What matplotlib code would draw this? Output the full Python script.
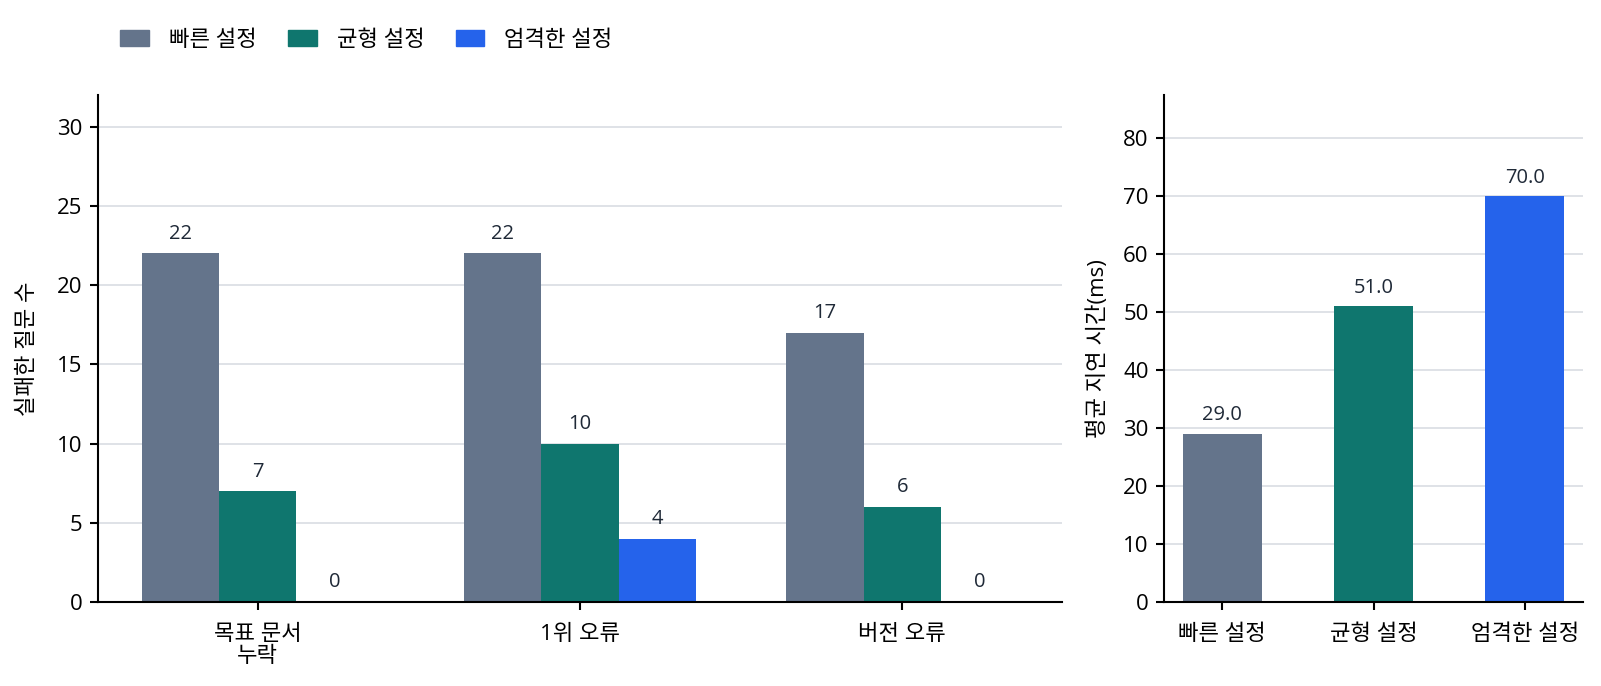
import matplotlib
matplotlib.use('Agg')
import matplotlib.pyplot as plt
import numpy as np
from matplotlib.patches import Patch

plt.rcParams['font.family'] = ['Open Sans', 'Noto Sans CJK KR', 'DejaVu Sans']

settings = ['빠른 설정', '균형 설정', '엄격한 설정']
colors = ['#64748b', '#0f766e', '#2563eb']
error_types = ['목표 문서\n누락', '1위 오류', '버전 오류']
failures = {
    '빠른 설정': [22, 22, 17],
    '균형 설정': [7, 10, 6],
    '엄격한 설정': [0, 4, 0],
}
latency = [29.0, 51.0, 70.0]

fig = plt.figure(figsize=(16.01, 6.86), dpi=100)
ax1 = fig.add_axes([98 / 1601, 1 - 602 / 686, (1062 - 98) / 1601, (602 - 95) / 686])
ax2 = fig.add_axes([1164 / 1601, 1 - 602 / 686, (1583 - 1164) / 1601, (602 - 95) / 686])

label_color = '#1f2937'
grid_color = '#d9dde3'
fs = 16

x = np.arange(len(error_types))
w = 0.24
for i, s in enumerate(settings):
    xs = x + (i - 1) * w
    ax1.bar(xs, failures[s], w, color=colors[i], zorder=2)
    for xi, v in zip(xs, failures[s]):
        ax1.text(xi, v + 0.6, str(v), ha='center', va='bottom', fontsize=14.5, color=label_color)
ax1.set_xticks(x)
ax1.set_xticklabels(error_types, fontsize=fs, linespacing=1.05)
ax1.set_ylim(0, 32)
ax1.set_yticks([0, 5, 10, 15, 20, 25, 30])
ax1.set_ylabel('실패한 질문 수', fontsize=fs, labelpad=14)

xr = np.arange(len(settings))
ax2.bar(xr, latency, 0.52, color=colors, zorder=2)
for xi, v in zip(xr, latency):
    ax2.text(xi, v + 1.5, f'{v:.1f}', ha='center', va='bottom', fontsize=14.5, color=label_color)
ax2.set_xticks(xr)
ax2.set_xticklabels(settings, fontsize=fs)
ax2.set_ylim(0, 87.5)
ax2.set_yticks(range(0, 81, 10))
ax2.set_ylabel('평균 지연 시간(ms)', fontsize=fs, labelpad=10)

for ax in (ax1, ax2):
    ax.spines['top'].set_visible(False)
    ax.spines['right'].set_visible(False)
    ax.spines['left'].set_linewidth(1.5)
    ax.spines['bottom'].set_linewidth(1.5)
    ax.yaxis.grid(True, color=grid_color, linewidth=1.2, zorder=0)
    ax.set_axisbelow(True)
    ax.tick_params(axis='both', labelsize=fs, width=1.5, length=6, pad=5)
    ax.tick_params(axis='x', pad=10)

handles = [Patch(color=c, label=s) for c, s in zip(colors, settings)]
fig.legend(handles=handles, loc='center left', bbox_to_anchor=(120 / 1601, 1 - 40 / 686),
           ncol=3, frameon=False, fontsize=fs, handlelength=1.3, handleheight=0.75,
           columnspacing=1.4, handletextpad=0.9, borderaxespad=0, borderpad=0)

fig.savefig('out.png', dpi=100)
